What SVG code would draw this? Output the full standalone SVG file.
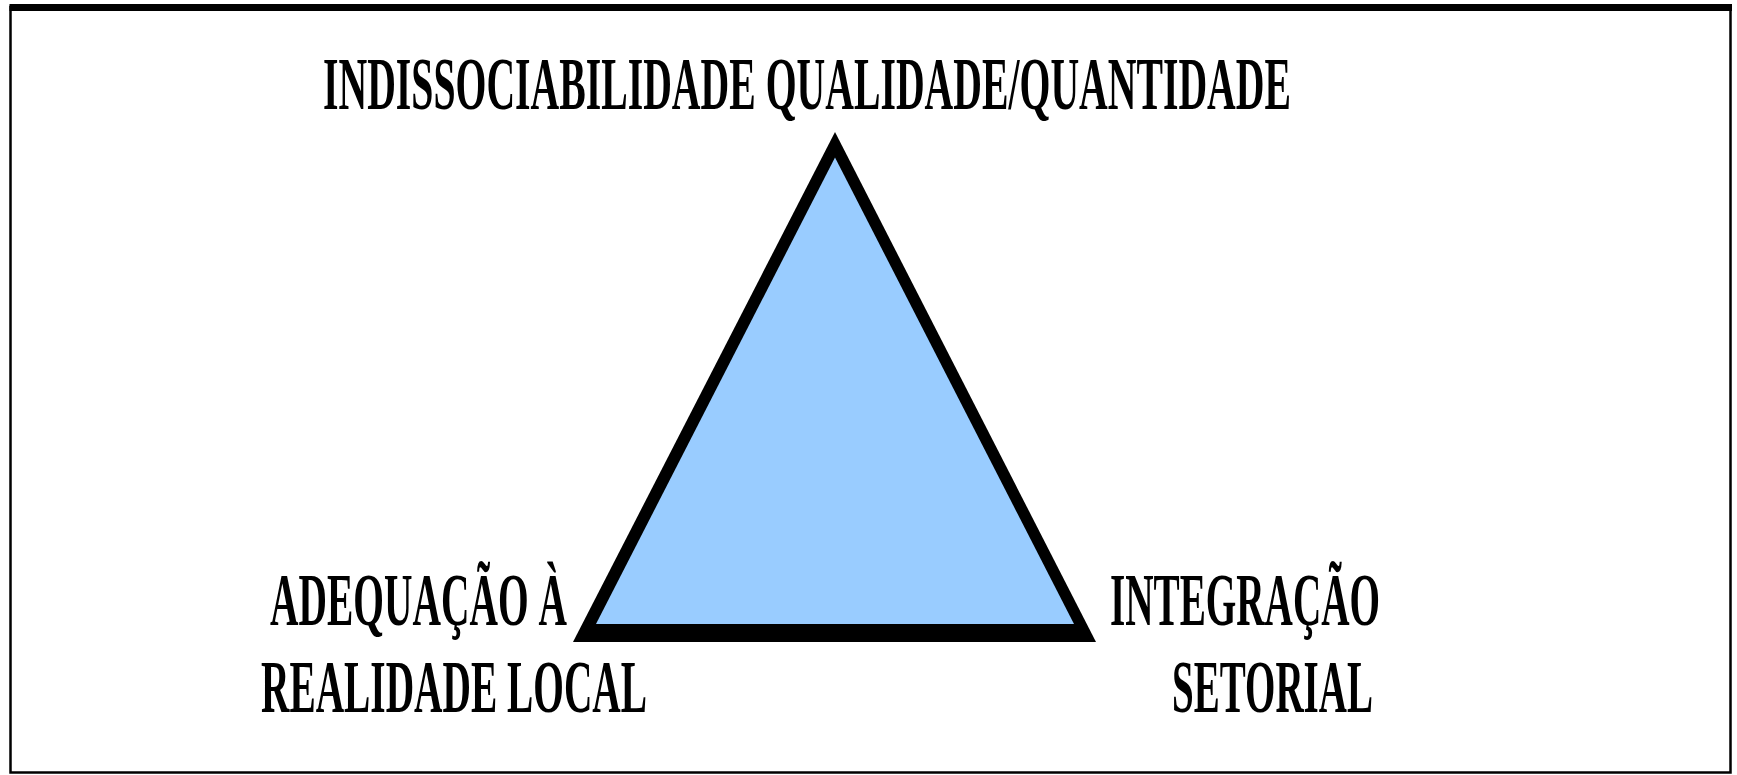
<svg xmlns="http://www.w3.org/2000/svg" width="1737" height="775" viewBox="0 0 1737 775">
<style>
.lbl{font-family:"Liberation Serif","Times New Roman",serif;font-weight:bold;font-size:73px;fill:#000}
</style>
<rect x="0" y="0" width="1737" height="775" fill="#fff"/>
<g id="frame">
<rect x="10.5" y="7" width="1720" height="765.5" fill="none" stroke="#000" stroke-width="2.5"/>
<rect x="9.5" y="4" width="1722.5" height="7" fill="#000"/>
</g>
<g id="triangle">
<polygon points="835,132 573,642 1096,642" fill="#000"/>
<polygon points="835,157.5 596,624 1074,624" fill="#99ccff"/>
</g>
<g id="top-label">
<text class="lbl" x="323" y="109" textLength="968" lengthAdjust="spacingAndGlyphs">INDISSOCIABILIDADE QUALIDADE/QUANTIDADE</text>
</g>
<g id="left-label">
<text class="lbl" x="270" y="625" textLength="297" lengthAdjust="spacingAndGlyphs">ADEQUAÇÃO À</text>
<text class="lbl" x="261" y="712" textLength="386" lengthAdjust="spacingAndGlyphs">REALIDADE LOCAL</text>
</g>
<g id="right-label">
<text class="lbl" x="1110" y="625" textLength="270" lengthAdjust="spacingAndGlyphs">INTEGRAÇÃO</text>
<text class="lbl" x="1172" y="712" textLength="201" lengthAdjust="spacingAndGlyphs">SETORIAL</text>
</g>
<g id="connectors"/>
</svg>
